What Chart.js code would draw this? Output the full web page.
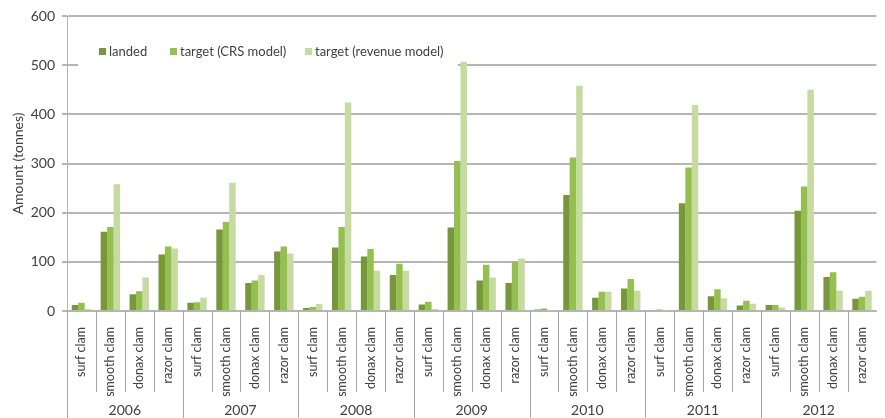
<!DOCTYPE html>
<html>
<head>
<meta charset="utf-8">
<script src="https://cdn.jsdelivr.net/npm/chart.js@4/dist/chart.umd.min.js"></script>
<style>
  html, body { margin: 0; padding: 0; background: #fff; }
  canvas { display: block; }
</style>
</head>
<body>
<canvas id="clamChart" width="885" height="418"></canvas>
<script>
const years = ["2006", "2007", "2008", "2009", "2010", "2011", "2012"];
const species = ["surf clam", "smooth clam", "donax clam", "razor clam"];
const yTicks = [0, 100, 200, 300, 400, 500, 600];

// one value per year x species, in the order of the labels below
const landed = [12, 161, 34, 115, 17, 166, 57, 121, 6, 129, 111, 73, 13, 170, 62, 57, 3, 236, 27, 46, 2, 219, 30, 11, 12, 204, 69, 25];
const targetCrs = [17, 171, 40, 131, 18, 181, 62, 131, 8, 171, 126, 96, 19, 305, 94, 100, 5, 312, 39, 65, 3, 292, 44, 21, 12, 253, 79, 29];
const targetRevenue = [4, 258, 68, 127, 27, 261, 73, 117, 14, 424, 82, 82, 4, 507, 68, 107, 1, 458, 39, 41, 1, 419, 26, 15, 7, 450, 41, 41];

const labels = years.flatMap(() => species);
const TEXT = "#404040";
const GRID = "#b5b5b5";
const FONT = "Lato, 'Open Sans', sans-serif";

// year row + separators under the rotated species labels
const groupAxis = {
  id: "groupAxis",
  afterDraw(chart) {
    const { ctx, chartArea } = chart;
    const x = chart.scales.x;
    const half = (x.getPixelForValue(1) - x.getPixelForValue(0)) / 2;
    ctx.save();
    ctx.strokeStyle = "#a6a6a6";
    ctx.lineWidth = 1;
    for (let i = 0; i < labels.length; i++) {
      const px = Math.round(x.getPixelForValue(i) - half) + 0.5;
      const long = i % species.length === 0;
      ctx.beginPath();
      ctx.moveTo(px, chartArea.bottom);
      ctx.lineTo(px, long ? chart.height : chartArea.bottom + 81);
      ctx.stroke();
    }
    ctx.fillStyle = TEXT;
    ctx.font = "14px " + FONT;
    ctx.textAlign = "center";
    ctx.textBaseline = "middle";
    years.forEach((year, g) => {
      const first = x.getPixelForValue(g * species.length);
      const last = x.getPixelForValue(g * species.length + species.length - 1);
      ctx.fillText(year, (first + last) / 2, 410);
    });
    ctx.restore();
  },
};

// legend sits inside the plot on a white box that hides the 500 gridline
const boxedLegend = {
  id: "boxedLegend",
  beforeDatasetsDraw(chart) {
    const { ctx } = chart;
    ctx.save();
    ctx.fillStyle = "#fff";
    ctx.fillRect(78, 34, 380, 38);
    ctx.font = "13px " + FONT;
    ctx.textBaseline = "middle";
    const starts = [99, 170, 305];
    chart.data.datasets.forEach((ds, i) => {
      ctx.fillStyle = ds.backgroundColor;
      ctx.fillRect(starts[i], 48, 7, 7);
      ctx.fillStyle = TEXT;
      ctx.fillText(ds.label, starts[i] + 10, 52);
    });
    ctx.restore();
  },
};

new Chart(document.getElementById("clamChart"), {
  type: "bar",
  data: {
    labels,
    datasets: [
      { label: "landed", data: landed, backgroundColor: "#76983a" },
      { label: "target (CRS model)", data: targetCrs, backgroundColor: "#95c04f" },
      { label: "target (revenue model)", data: targetRevenue, backgroundColor: "#c5dba2" },
    ],
  },
  options: {
    responsive: false,
    animation: false,
    layout: { padding: { top: 16, right: 0, left: 0, bottom: 0 } },
    datasets: { bar: { categoryPercentage: 0.67, barPercentage: 1.0 } },
    plugins: { legend: { display: false }, tooltip: { enabled: false } },
    scales: {
      x: {
        grid: { display: false },
        border: { display: true, color: GRID, width: 1 },
        ticks: {
          color: TEXT,
          font: { family: FONT, size: 12.5 },
          minRotation: 90,
          maxRotation: 90,
          padding: 8,
          autoSkip: false,
        },
        afterFit(scale) { scale.height = 107; },
      },
      y: {
        min: 0,
        max: 600,
        afterBuildTicks(scale) { scale.ticks = yTicks.map((value) => ({ value })); },
        grid: { color: GRID, lineWidth: 2, tickLength: 5 },
        border: { display: true, color: GRID, width: 1 },
        ticks: { color: TEXT, font: { family: FONT, size: 14 }, padding: 7 },
        title: {
          display: true,
          text: "Amount (tonnes)",
          color: TEXT,
          font: { family: FONT, size: 14 },
          padding: { top: 10, bottom: 0 },
        },
        afterFit(scale) { scale.width = 67; },
      },
    },
  },
  plugins: [groupAxis, boxedLegend],
});
</script>
</body>
</html>
